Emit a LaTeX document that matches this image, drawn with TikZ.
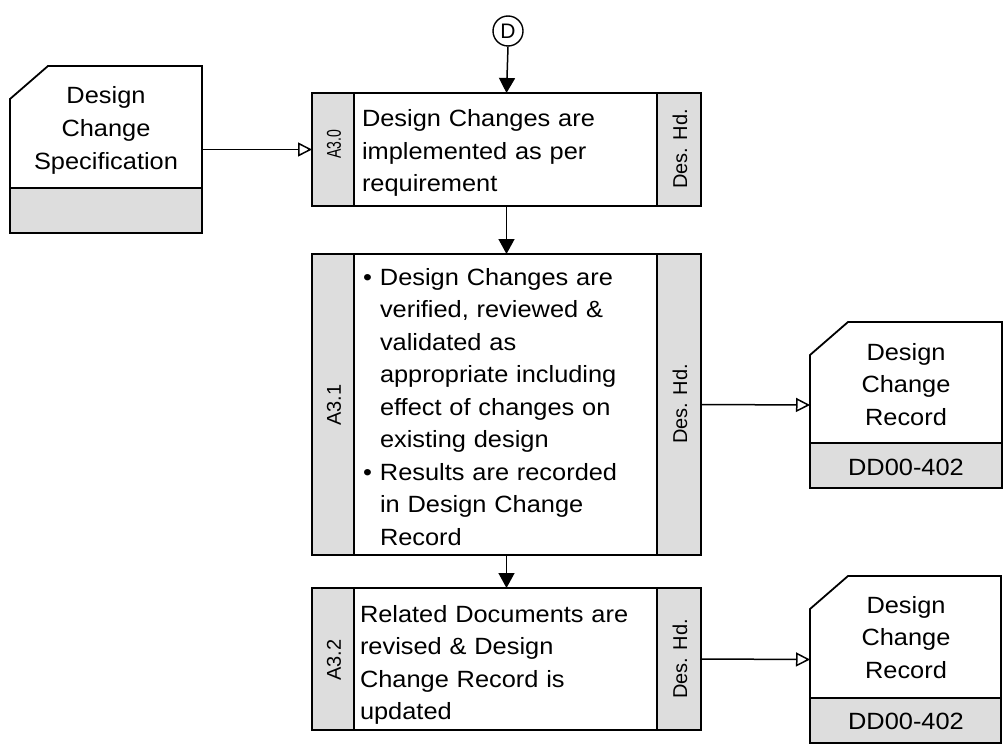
\documentclass[tikz,border=0pt]{standalone}
\usepackage{fontspec}
\setmainfont[FakeStretch=1.08]{Liberation Sans}
\newfontfamily\bandfont{Liberation Sans}
\newfontfamily\narrowfont[FakeStretch=0.7]{Liberation Sans}
\usetikzlibrary{arrows.meta,calc}
\definecolor{bandgray}{RGB}{221,221,221}
\tikzset{
  procbox/.style={draw, line width=1.8pt, inner sep=0pt, outer sep=0pt, anchor=north west},
  bandbox/.style={draw, fill=bandgray, line width=1.8pt, inner sep=0pt, outer sep=0pt},
  docnode/.style={inner sep=0pt, outer sep=0pt, anchor=north west},
  docline/.style={line width=1.8pt, line join=miter},
  bodytext/.style={inner sep=0pt, outer sep=0pt, anchor=north west, align=left, text width=320pt, font=\fontsize{23.5}{32.5}\selectfont},
  doctext/.style={inner sep=0pt, outer sep=0pt, anchor=north, align=center, text width=190pt, font=\fontsize{23.5}{32.8}\selectfont},
  bandtext/.style={rotate=90, inner sep=0pt, font=\bandfont\fontsize{20}{24}\selectfont},
  conn/.style={line width=1.5pt},
  solidtip/.style={-{Triangle[length=15pt,width=16pt]}},
  opentip/.style={-{Triangle[open,length=14pt,width=14pt,fill=white]}}
}
\newcommand{\docshape}[1]{%
  \fill[bandgray] (#1.south west) rectangle ([yshift=45pt]#1.south east);
  \draw[docline] ([yshift=45pt]#1.south west) -- ([yshift=45pt]#1.south east);
  \draw[docline] ([xshift=38pt]#1.north west) -- (#1.north east) -- (#1.south east) -- (#1.south west) -- ([yshift=-33pt]#1.north west) -- cycle;
}
\begin{document}
\begin{tikzpicture}[x=1pt,y=-1pt]
\useasboundingbox (0,0) rectangle (1003,754);

% connector circle
\node (D) [draw, circle, minimum size=30pt, line width=1.4pt, inner sep=0pt, font=\bandfont\fontsize{21}{24}\selectfont] at (508,31) {D};

% process A3.0
\node (p0) [procbox, minimum width=389pt, minimum height=113pt] at (312,93) {};
\node (p0l) [bandbox, anchor=north west, minimum width=42pt, minimum height=113pt] at (p0.north west) {};
\node (p0r) [bandbox, anchor=north east, minimum width=44pt, minimum height=113pt] at (p0.north east) {};
\node (p0id) [bandtext, font=\narrowfont\fontsize{20}{24}\selectfont] at (334,144) {A3.0};
\node (p0who) [bandtext] at (680,149) {Des. Hd.};
\node (p0txt) [bodytext] at (362,107) {\rule{0pt}{20pt}Design Changes are\\implemented as per\\requirement};

% process A3.1
\node (p1) [procbox, minimum width=389pt, minimum height=301pt] at (312,254) {};
\node (p1l) [bandbox, anchor=north west, minimum width=42pt, minimum height=301pt] at (p1.north west) {};
\node (p1r) [bandbox, anchor=north east, minimum width=44pt, minimum height=301pt] at (p1.north east) {};
\node (p1id) [bandtext] at (334,405) {A3.1};
\node (p1who) [bandtext] at (680,404) {Des. Hd.};
\node (p1txt) [bodytext] at (363,265) {\rule{0pt}{20pt}\makebox[17pt][l]{•}Design Changes are\\
\hspace*{17pt}verified, reviewed \&\\
\hspace*{17pt}validated as\\
\hspace*{17pt}appropriate including\\
\hspace*{17pt}effect of changes on\\
\hspace*{17pt}existing design\\
\makebox[17pt][l]{•}Results are recorded\\
\hspace*{17pt}in Design Change\\
\hspace*{17pt}Record};

% process A3.2
\node (p2) [procbox, minimum width=389pt, minimum height=142pt] at (312,588) {};
\node (p2l) [bandbox, anchor=north west, minimum width=42pt, minimum height=142pt] at (p2.north west) {};
\node (p2r) [bandbox, anchor=north east, minimum width=44pt, minimum height=142pt] at (p2.north east) {};
\node (p2id) [bandtext] at (334,660) {A3.2};
\node (p2who) [bandtext] at (680,659) {Des. Hd.};
\node (p2txt) [bodytext] at (360,602) {\rule{0pt}{20pt}Related Documents are\\revised \& Design\\Change Record is\\updated};

% documents
\node (d0) [docnode, minimum width=192pt, minimum height=167pt] at (10,66) {};
\docshape{d0}
\node (d0txt) [doctext] at (106,84) {\rule{0pt}{20pt}Design\\Change\\Specification};

\node (r1) [docnode, minimum width=192pt, minimum height=166pt] at (810,322) {};
\docshape{r1}
\node (r1txt) [doctext] at (906,340) {\rule{0pt}{20pt}Design\\Change\\Record};
\node (r1code) [doctext] at (906,455) {\rule{0pt}{20pt}DD00-402};

\node (r2) [docnode, minimum width=191pt, minimum height=167pt] at (810,576) {};
\docshape{r2}
\node (r2txt) [doctext] at (906,593) {\rule{0pt}{20pt}Design\\Change\\Record};
\node (r2code) [doctext] at (906,709) {\rule{0pt}{20pt}DD00-402};

% connectors
\draw[conn, solidtip] (D.south) -- (p0.north);
\draw[conn, solidtip] (p0.south) -- (p1.north);
\draw[conn, solidtip] (p1.south) -- (p2.north);
\draw[conn, opentip] (d0.east) -- (p0.west);
\draw[conn, opentip] (p1.east) -- (r1.west);
\draw[conn, opentip] (p2.east) -- (r2.west);
\end{tikzpicture}
\end{document}
